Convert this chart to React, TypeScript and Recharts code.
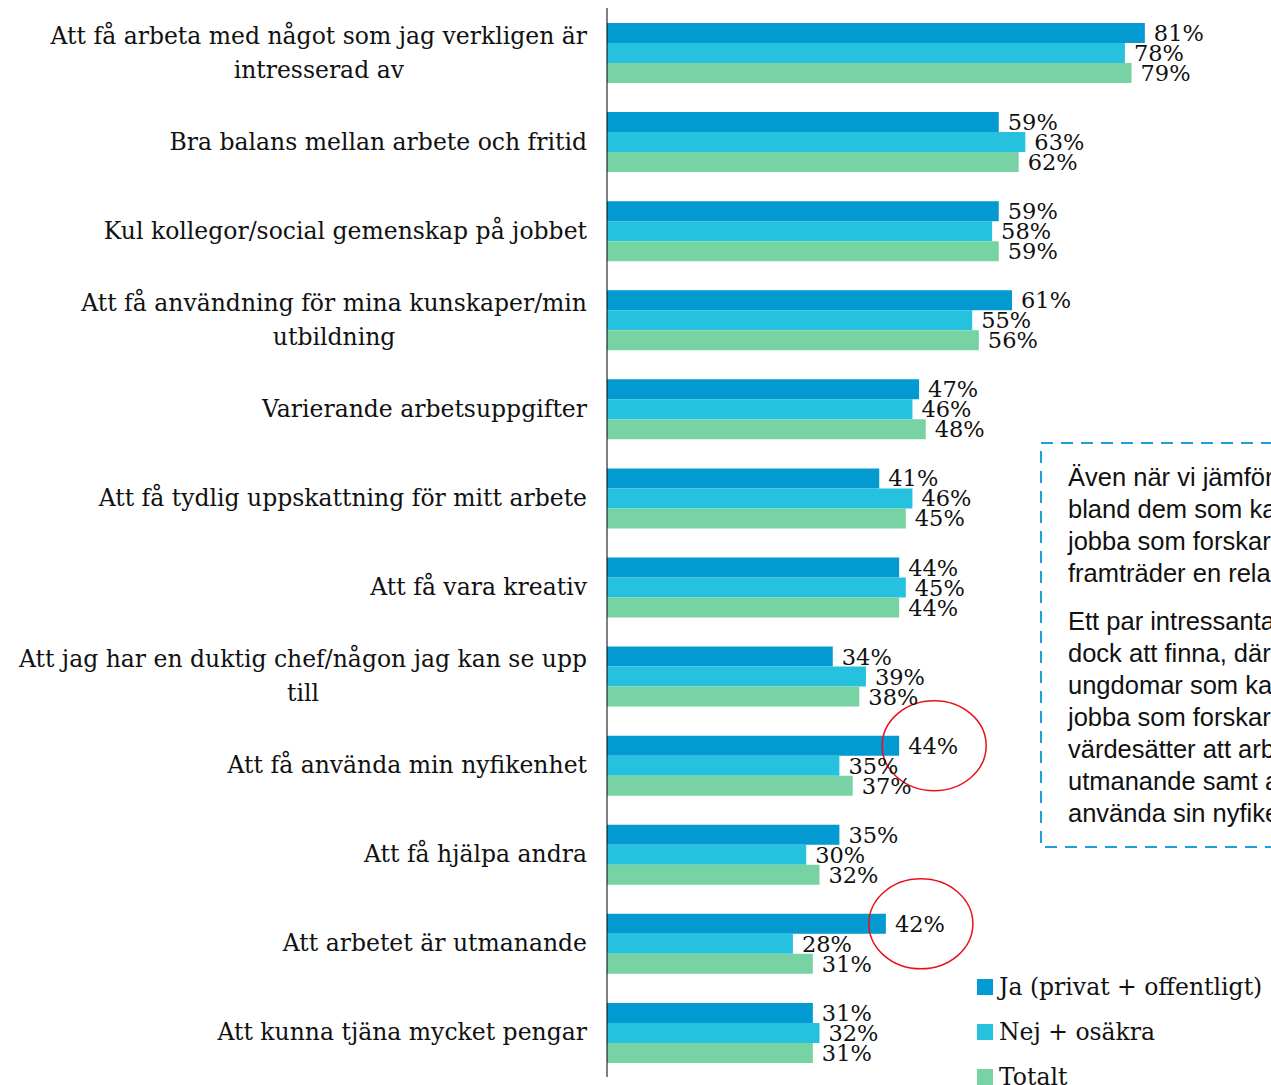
import { BarChart, Bar, XAxis, YAxis, LabelList, Legend } from 'recharts';

const CATEGORIES = [
  'Att få arbeta med något som jag verkligen är\nintresserad av',
  'Bra balans mellan arbete och fritid',
  'Kul kollegor/social gemenskap på jobbet',
  'Att få användning för mina kunskaper/min\nutbildning',
  'Varierande arbetsuppgifter',
  'Att få tydlig uppskattning för mitt arbete',
  'Att få vara kreativ',
  'Att jag har en duktig chef/någon jag kan se upp\ntill',
  'Att få använda min nyfikenhet',
  'Att få hjälpa andra',
  'Att arbetet är utmanande',
  'Att kunna tjäna mycket pengar',
];
const JA = [81, 59, 59, 61, 47, 41, 44, 34, 44, 35, 42, 31];
const NEJ = [78, 63, 58, 55, 46, 46, 45, 39, 35, 30, 28, 32];
const TOTALT = [79, 62, 59, 56, 48, 45, 44, 38, 37, 32, 31, 31];
const SERIES = ['Ja (privat + offentligt)', 'Nej + osäkra', 'Totalt'];
// categories circled in red (Ja value)
const HIGHLIGHT = ['Att få använda min nyfikenhet', 'Att arbetet är utmanande'];

const NOTE_P1 = [
  'Även när vi jämför intresset',
  'bland dem som kan tänka sig att',
  'jobba som forskare eller inte',
  'framträder en relativt likartad bild.',
];
const NOTE_P2 = [
  'Ett par intressanta skillnader finns',
  'dock att finna, där de',
  'ungdomar som kan tänka sig att',
  'jobba som forskare i högre grad',
  'värdesätter att arbetet är',
  'utmanande samt att få',
  'använda sin nyfikenhet.',
];

const COLORS = ['#0399d1', '#25c1df', '#77d3a3'];
const SERIF = '"DejaVu Serif", serif';
const SANS = '"Liberation Sans", Arial, sans-serif';
const CAT_FS = 23.5;

const data = CATEGORIES.map((c, i) => ({ cat: c, ja: JA[i], nej: NEJ[i], tot: TOTALT[i] }));

let ctx: CanvasRenderingContext2D | null = null;
function textWidth(s: string, font: string) {
  if (!ctx) ctx = document.createElement('canvas').getContext('2d');
  if (!ctx) return s.length * 12;
  ctx.font = font;
  return ctx.measureText(s).width;
}

function CategoryTick({ x, y, payload }: any) {
  const lines = String(payload.value).split('\n');
  const lineH = 34;
  const maxW = Math.max(...lines.map(l => textWidth(l, `${CAT_FS}px "DejaVu Serif"`)));
  const top = y - ((lines.length - 1) * lineH) / 2;
  return (
    <g>
      {lines.map((l, i) => (
        <text
          key={i}
          x={lines.length > 1 ? x - maxW / 2 : x}
          y={top + i * lineH}
          textAnchor={lines.length > 1 ? 'middle' : 'end'}
          dominantBaseline="central"
          fontFamily={SERIF}
          fontSize={CAT_FS}
          fill="#111"
        >
          {l}
        </text>
      ))}
    </g>
  );
}

const valueLabel = (circle: boolean) => (props: any) => {
  const { x, y, width, height, value, index } = props;
  const lx = x + width + 9;
  const cy = y + height / 2;
  const ring = circle && HIGHLIGHT.includes(CATEGORIES[index]);
  return (
    <g>
      {ring && (
        <ellipse cx={x + width + 35} cy={cy} rx={52} ry={45} fill="none" stroke="#e8101a" strokeWidth={1.5} />
      )}
      <text x={lx} y={cy} dominantBaseline="central" fontFamily={SERIF} fontSize={22.5} fill="#111">
        {value}%
      </text>
    </g>
  );
};

function LegendBox({ payload }: any) {
  return (
    <div>
      {(payload ?? []).map((p: any) => (
        <div key={p.value} style={{ height: 45, display: 'flex', alignItems: 'center', whiteSpace: 'nowrap' }}>
          <span style={{ width: 16, height: 16, background: p.color, display: 'inline-block', marginRight: 6 }} />
          <span style={{ fontFamily: SERIF, fontSize: 23.5, color: '#111' }}>{p.value}</span>
        </div>
      ))}
    </div>
  );
}

export default function App() {
  return (
    <div style={{ position: 'absolute', left: 0, top: 0, width: 1271, height: 1085, overflow: 'hidden', background: '#fff' }}>
      <BarChart
        width={1271}
        height={1085}
        data={data}
        layout="vertical"
        margin={{ top: 8, right: 0, left: 0, bottom: 8 }}
        barGap={0}
      >
        <XAxis type="number" domain={[0, 100]} hide />
        <YAxis
          type="category"
          dataKey="cat"
          width={607}
          axisLine={{ stroke: '#000', strokeWidth: 1 }}
          tickLine={false}
          tickSize={0}
          tickMargin={20}
          interval={0}
          tick={<CategoryTick />}
        />
        <Legend
          layout="horizontal"
          verticalAlign="middle"
          align="center"
          wrapperStyle={{ position: 'absolute', left: 977, top: 964, width: 340, height: 135 }}
          content={<LegendBox />}
        />
        <Bar dataKey="ja" name={SERIES[0]} fill={COLORS[0]} barSize={20} isAnimationActive={false}>
          <LabelList dataKey="ja" content={valueLabel(true)} />
        </Bar>
        <Bar dataKey="nej" name={SERIES[1]} fill={COLORS[1]} barSize={20} isAnimationActive={false}>
          <LabelList dataKey="nej" content={valueLabel(false)} />
        </Bar>
        <Bar dataKey="tot" name={SERIES[2]} fill={COLORS[2]} barSize={20} isAnimationActive={false}>
          <LabelList dataKey="tot" content={valueLabel(false)} />
        </Bar>
      </BarChart>

      <div style={{ position: 'absolute', left: 1040, top: 442, width: 300, height: 406 }}>
        <svg width={300} height={406} style={{ position: 'absolute', left: 0, top: 0 }}>
          <rect x={1} y={1} width={296} height={404} fill="none" stroke="#1c9fdb" strokeWidth={2} strokeDasharray="12 8" />
        </svg>
        <div style={{ position: 'absolute', left: 28, top: 19, fontFamily: SANS, fontSize: 25.5, lineHeight: '32px', color: '#111', whiteSpace: 'nowrap' }}>
          {NOTE_P1.map(l => <div key={l}>{l}</div>)}
          <div style={{ height: 16 }} />
          {NOTE_P2.map(l => <div key={l}>{l}</div>)}
        </div>
      </div>
    </div>
  );
}
